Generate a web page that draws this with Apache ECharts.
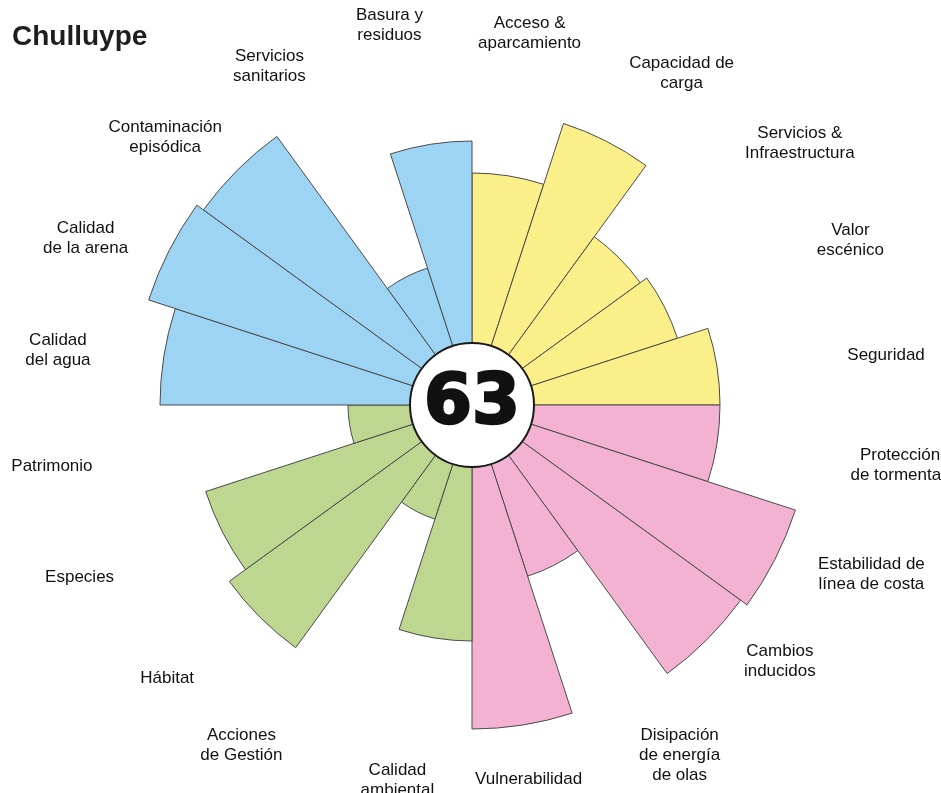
<!DOCTYPE html>
<html>
<head>
<meta charset="utf-8">
<script src="https://cdn.jsdelivr.net/npm/echarts@6/dist/echarts.min.js"></script>
<style>
html, body { margin: 0; padding: 0; background: #fff; }
#rose { width: 941px; height: 793px; }
</style>
</head>
<body>
<div id="rose"></div>
<script>
// indicadores, en sentido horario desde las 12
var indicadores = [
    'Acceso &\naparcamiento', 'Capacidad de\ncarga', 'Servicios &\nInfraestructura', 'Valor\nescénico', 'Seguridad',
    'Protección\nde tormentas', 'Estabilidad de\nlínea de costa', 'Cambios\ninducidos', 'Disipación\nde energía\nde olas', 'Vulnerabilidad',
    'Calidad\nambiental', 'Acciones\nde Gestión', 'Hábitat', 'Especies', 'Patrimonio',
    'Calidad\ndel agua', 'Calidad\nde la arena', 'Contaminación\nepisódica', 'Servicios\nsanitarios', 'Basura y\nresiduos'
];
var valores = [58, 74, 52, 54, 62, 62, 85, 83, 45, 81, 59, 30, 75, 70, 31, 78, 85, 83, 36, 66];
// un color por bloque de 5 indicadores
var grupoColores = ['#fbef8a', '#f4b2d2', '#bdd690', '#9dd4f3'];
var puntaje = 63;

// los textos del original estan colocados a mano, se corrigen un poco
var radioEtiquetas = 100;
var ajusteEtiquetas = [
    [-5, 23], [28, 25], [45, 21], [22, 17], [19, 13],
    [33, -2], [43, -12], [25, -27], [26, -6], [-6, -21],
    [-12, -20], [-49, -16], [-22, -10], [-36, -9], [-25, -1],
    [-19, 8], [-30, 15], [-24, 15], [-21, 18], [-20, 15]
];

var fuente = 'Liberation Sans, Arial, sans-serif';

var myChart = echarts.init(document.getElementById('rose'));

var option = {
    animation: false,
    title: {
        text: 'Chulluype',
        left: 7,
        top: 18,
        textStyle: {
            fontFamily: fuente,
            fontSize: 28,
            fontWeight: 'bold',
            color: '#1e1e1e'
        }
    },
    polar: {
        center: [472, 405],
        radius: 400
    },
    radiusAxis: {
        type: 'value',
        min: 0,
        max: 100,
        show: false
    },
    angleAxis: {
        type: 'category',
        data: indicadores,
        startAngle: 90,
        axisLine: { show: false },
        axisTick: { show: false },
        splitLine: { show: false },
        axisLabel: { show: false }
    },
    series: [{
        type: 'bar',
        coordinateSystem: 'polar',
        barCategoryGap: '0%',
        silent: true,
        data: valores.map(function (v, i) {
            return {
                value: v,
                itemStyle: { color: grupoColores[Math.floor(i / 5)] }
            };
        }),
        itemStyle: {
            borderColor: '#4a4a4a',
            borderWidth: 1
        }
    }, {
        // nombres de los indicadores
        type: 'scatter',
        coordinateSystem: 'polar',
        clip: false,
        silent: true,
        symbolSize: 0,
        itemStyle: { opacity: 1 },
        data: indicadores.map(function (n, i) {
            return {
                name: n,
                value: [radioEtiquetas, i],
                label: { offset: ajusteEtiquetas[i] }
            };
        }),
        label: {
            show: true,
            position: 'inside',
            formatter: '{b}',
            fontFamily: fuente,
            fontSize: 17,
            lineHeight: 20,
            color: '#111',
            textBorderWidth: 0,
            textBorderColor: 'transparent'
        }
    }, {
        type: 'pie',
        center: [472, 405],
        radius: [0, 62],
        silent: true,
        data: [{ value: 1, name: String(puntaje) }],
        itemStyle: {
            color: '#fff',
            borderColor: '#1a1a1a',
            borderWidth: 2
        },
        label: {
            position: 'center',
            formatter: '{b}',
            fontFamily: 'DejaVu Sans, Verdana, sans-serif',
            fontWeight: 'bold',
            fontSize: 69,
            color: '#111',
            textBorderColor: '#111',
            textBorderWidth: 2.5
        },
        labelLine: { show: false }
    }]
};

myChart.setOption(option);
</script>
</body>
</html>
